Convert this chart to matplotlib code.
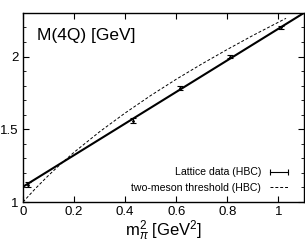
import matplotlib
matplotlib.use("Agg")
import matplotlib.pyplot as plt
from matplotlib.lines import Line2D

plt.rcParams['font.family'] = ['Liberation Sans', 'DejaVu Sans']
plt.rcParams['mathtext.fontset'] = 'custom'
plt.rcParams['mathtext.rm'] = 'Liberation Sans'
plt.rcParams['mathtext.it'] = 'Liberation Sans:italic'

# lattice data (HBC)
mpi2 = [0.02, 0.43, 0.615, 0.81, 1.01]
mass = [1.12, 1.56, 1.785, 2.0, 2.2]
mass_err = [0.015, 0.015, 0.012, 0.01, 0.01]

# linear fit line end points
fit_x = [0.0, 1.1]
fit_y = [1.105, 2.30]

# two-meson threshold
thr_x = [0.0, 0.05, 0.1, 0.15, 0.2, 0.3, 0.4, 0.5, 0.6, 0.7, 0.8, 0.9, 1.0, 1.03]
thr_y = [1.0, 1.095, 1.183, 1.265, 1.342, 1.483, 1.612, 1.732, 1.844, 1.949,
         2.049, 2.145, 2.236, 2.263]

fig = plt.figure(figsize=(3.05, 2.43), dpi=100)
ax = fig.add_axes([0.0754, 0.1687, 0.921, 0.778])

ax.plot(fit_x, fit_y, color='black', lw=1.5)
ax.errorbar(mpi2, mass, yerr=mass_err, fmt='.', color='black', ms=2,
            elinewidth=0.8, capsize=2, capthick=0.8)
ax.plot(thr_x, thr_y, color='black', lw=0.7, ls=(0, (3, 2)))

ax.set_xlim(0, 1.1)
ax.set_ylim(1, 2.3)
ax.set_xticks([0, 0.2, 0.4, 0.6, 0.8, 1])
ax.set_xticklabels(['0', '0.2', '0.4', '0.6', '0.8', '1'])
ax.set_yticks([1, 1.5, 2])
ax.set_yticklabels(['1', '1.5', '2'])
ax.set_yticks([1.1, 1.2, 1.3, 1.4, 1.6, 1.7, 1.8, 1.9, 2.1, 2.2], minor=True)
ax.tick_params(direction='in', top=True, right=True, labelsize=9.5, length=4, width=0.8, pad=3)
ax.tick_params(which='minor', direction='in', right=True, length=2.5, width=0.6)
for s in ax.spines.values():
    s.set_linewidth(1.0)

ax.set_xlabel(r'm$_\pi^2$ [GeV$^2$]', fontsize=12, labelpad=0)
ax.text(0.05, 0.88, 'M(4Q) [GeV]', transform=ax.transAxes, fontsize=12.5,
        va='center', ha='left')

# legend handles
h_lat = Line2D([], [], color='black', lw=0.8, marker='|', ms=4, mew=0.8)
h_thr = Line2D([], [], color='black', lw=0.7, ls=(0, (3, 2)))
ax.legend([h_lat, h_thr], ['Lattice data (HBC)', 'two-meson threshold (HBC)'],
          loc='lower right', fontsize=7.6, frameon=False, markerfirst=False,
          numpoints=2, handlelength=2.3, handletextpad=0.5, labelspacing=0.55,
          borderpad=0.3, borderaxespad=0, bbox_to_anchor=(0.965, 0.03))

plt.savefig("out.png", dpi=100)
